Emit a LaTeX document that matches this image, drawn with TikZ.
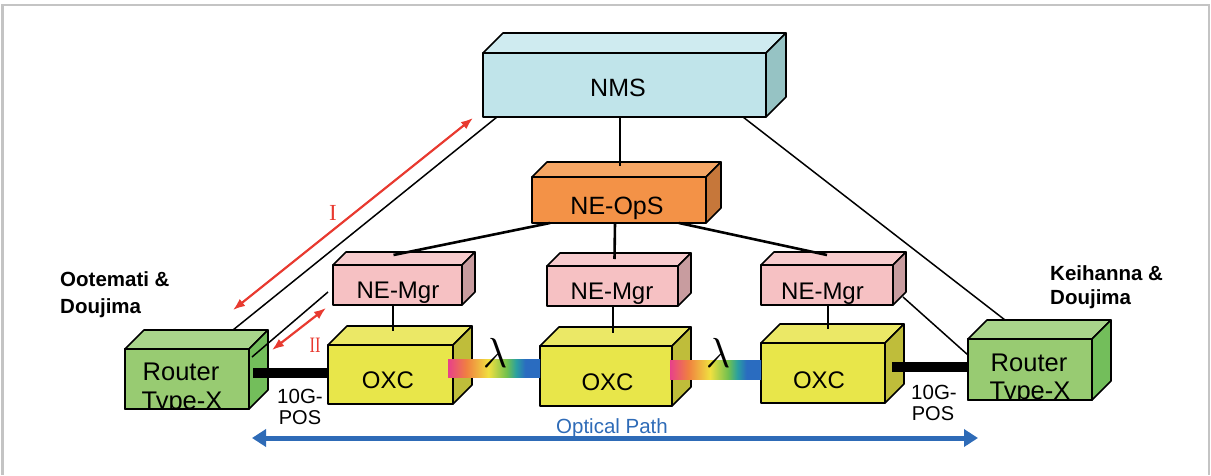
\documentclass[tikz,border=0pt]{standalone}
\usepackage{fontspec}
\setmainfont{Liberation Sans}
\newfontfamily\numfont{Liberation Serif}
\usetikzlibrary{arrows.meta,calc}

% face colours: F = front, T = top, S = side
\definecolor{nmsF}{HTML}{C0E4EA}
\definecolor{nmsT}{HTML}{CFEBF0}
\definecolor{nmsS}{HTML}{96C3C4}
\definecolor{opsF}{HTML}{F39247}
\definecolor{opsT}{HTML}{F5A665}
\definecolor{opsS}{HTML}{C6773A}
\definecolor{mgrF}{HTML}{F6C1C3}
\definecolor{mgrT}{HTML}{F7CBCD}
\definecolor{mgrS}{HTML}{C89C9F}
\definecolor{oxcF}{HTML}{E8E64A}
\definecolor{oxcT}{HTML}{EBE866}
\definecolor{oxcS}{HTML}{BFBD3A}
\definecolor{rtrF}{HTML}{98CB72}
\definecolor{rtrT}{HTML}{A9D58B}
\definecolor{rtrS}{HTML}{73BE5B}
\definecolor{pathblue}{HTML}{2E6BB7}
\definecolor{mgmtred}{HTML}{E83A30}
\definecolor{framegray}{HTML}{C4C4C4}
% wavelength band
\definecolor{rbA}{HTML}{E8408A}
\definecolor{rbB}{HTML}{F08040}
\definecolor{rbC}{HTML}{F0E040}
\definecolor{rbD}{HTML}{70C050}
\definecolor{rbE}{HTML}{2AA0A0}
\definecolor{rbF}{HTML}{2A6CC0}
\pgfdeclarehorizontalshading{rainbow}{100bp}{color(0bp)=(rbA); color(25bp)=(rbA);
  color(35bp)=(rbB); color(47bp)=(rbC); color(57bp)=(rbD); color(62bp)=(rbE);
  color(67bp)=(rbF); color(100bp)=(rbF)}

\tikzset{
  boxline/.style={draw=black, line width=1.6pt, line join=round},
  conn/.style={line width=1.5pt},
  trunk/.style={line width=2.6pt},
  fiber/.style={line width=10pt},
  mgmt/.style={draw=mgmtred, line width=2.2pt, {Latex[length=12pt,width=9pt]}-{Latex[length=12pt,width=9pt]}},
  optpath/.style={draw=pathblue, line width=5pt, {Triangle[length=14pt,width=17pt]}-{Triangle[length=14pt,width=17pt]}},
  boxtext/.style={anchor=base, inner sep=0pt},
  sitetext/.style={anchor=base west, inner sep=0pt, font=\bfseries\fontsize{20.5}{24}\selectfont},
}

% #1 name, #2 front centre, #3 width, #4 height, #5 depth, #6 colour prefix
\newcommand{\cuboid}[6]{%
  \node[boxline, fill=#6F, minimum width=#3pt, minimum height=#4pt,
        inner sep=0pt, outer sep=0pt] (#1) at #2 {};
  \filldraw[boxline, fill=#6T] (#1.north west) -- ++(#5,-#5)
     -- ($(#1.north east)+(#5,-#5)$) -- (#1.north east) -- cycle;
  \filldraw[boxline, fill=#6S] (#1.north east) -- ++(#5,-#5)
     -- ($(#1.south east)+(#5,-#5)$) -- (#1.south east) -- cycle;
}

\begin{document}
\begin{tikzpicture}[x=1pt,y=-1pt]
\useasboundingbox (0,0) rectangle (1211,475);

% frame
\draw[framegray, line width=2.2pt] (2.5,475) -- (2.5,4.8) -- (1209,4.8) -- (1209,475);

% equipment
\cuboid{nms}{(624.5,85)}{283}{64}{20}{nms}
\cuboid{ops}{(619,200)}{174}{46}{15}{ops}
\cuboid{mgrA}{(397.5,285)}{129}{40}{13}{mgr}
\cuboid{mgrB}{(612.5,286)}{131}{40}{13}{mgr}
\cuboid{mgrC}{(827,285)}{132}{40}{13}{mgr}
\cuboid{oxcA}{(390.5,374.5)}{125}{59}{19}{oxc}
\cuboid{oxcB}{(606,376)}{132}{60}{19}{oxc}
\cuboid{oxcC}{(823,373)}{124}{60}{19}{oxc}
\cuboid{rtrA}{(187,379)}{124}{60}{19}{rtr}
\cuboid{rtrB}{(1030,369.5)}{124}{61}{19}{rtr}

% box labels
\node[boxtext, font=\fontsize{25}{28}\selectfont] (nms-t) at (618,96) {NMS};
\node[boxtext, font=\fontsize{25}{28}\selectfont] (ops-t) at (617,214) {NE-OpS};
\node[boxtext, font=\fontsize{24}{28}\selectfont] (mgrA-t) at (398,298) {NE-Mgr};
\node[boxtext, font=\fontsize{24}{28}\selectfont] (mgrB-t) at (612,299) {NE-Mgr};
\node[boxtext, font=\fontsize{24}{28}\selectfont] (mgrC-t) at (822.5,299) {NE-Mgr};
\node[boxtext, font=\fontsize{24}{28}\selectfont] (oxcA-t) at (388,388) {OXC};
\node[boxtext, font=\fontsize{24}{28}\selectfont] (oxcB-t) at (607.5,390) {OXC};
\node[boxtext, font=\fontsize{24}{28}\selectfont] (oxcC-t) at (819,388) {OXC};

% router labels run past the front face and are cut by its edge
\begin{scope}
  \clip (rtrA.north west) rectangle (rtrA.south east);
  \node[boxtext, font=\fontsize{25.5}{28}\selectfont] (rtrA-t1) at (181,380) {Router};
  \node[boxtext, font=\fontsize{25.5}{28}\selectfont] (rtrA-t2) at (182,409) {Type-X};
\end{scope}
\draw[boxline] (rtrA.north west) rectangle (rtrA.south east);
\begin{scope}
  \clip (rtrB.north west) rectangle (rtrB.south east);
  \node[boxtext, font=\fontsize{25.5}{28}\selectfont] (rtrB-t1) at (1029,371.5) {Router};
  \node[boxtext, font=\fontsize{25.5}{28}\selectfont] (rtrB-t2) at (1030,399.5) {Type-X};
\end{scope}
\draw[boxline] (rtrB.north west) rectangle (rtrB.south east);

% management links
\draw[trunk] ($(nms.south)+(-4.5,0)$) -- ($(ops.north)+(1,-11)$);
\draw[trunk] ($(ops.south west)+(18,0)$) -- ($(mgrA.north)+(-4,-10)$);
\draw[trunk] ($(ops.south)+(-4,0)$) -- ($(mgrB.north)+(2,-7)$);
\draw[trunk] ($(ops.south east)+(-27,0)$) -- ($(mgrC.north)+(0,-10)$);
\draw[conn] ($(mgrA.south)+(-4.5,0)$) -- ($(oxcA.north)+(2.5,-14)$);
\draw[conn] ($(mgrB.south)+(0.5,0)$) -- ($(oxcB.north)+(7,-13)$);
\draw[conn] ($(mgrC.south)+(1,0)$) -- ($(oxcC.north)+(5,-14)$);
\draw[conn] ($(nms.south west)+(14,0)$) -- ($(rtrA.north west)+(108,-19)$);
\draw[conn] ($(nms.south east)+(-23,0)$) -- ($(rtrB.north west)+(37,-19)$);
\draw[conn] ($(mgrA.west)+(-5,7)$) -- ($(rtrA.north east)+(3,8)$);
\draw[conn] ($(mgrC.south east)+(10,-8)$) -- ($(rtrB.north west)+(0,16)$);

% 10G-POS links
\draw[fiber] ($(rtrA.east)+(4,-6)$) -- ($(oxcA.west)+(0,-1.5)$);
\draw[fiber] ($(oxcC.east)+(7,-6)$) -- ($(rtrB.west)+(0,-2.5)$);
\node[boxtext, font=\fontsize{20.5}{24}\selectfont] (posA1) at (300,403) {10G-};
\node[boxtext, font=\fontsize{20}{24}\selectfont] (posA2) at (300,424) {POS};
\node[boxtext, font=\fontsize{20.5}{24}\selectfont] (posB1) at (934,399) {10G-};
\node[boxtext, font=\fontsize{20}{24}\selectfont] (posB2) at (933,420) {POS};

% wavelength links
\shade[shading=rainbow] ($(oxcA.east)+(-5,-15)$) rectangle ($(oxcB.west)+(0,1.5)$);
\shade[shading=rainbow] ($(oxcB.east)+(-2,-16)$) rectangle ($(oxcC.west)+(0,6)$);
\node[boxtext] (lamA) at (495,367) {\scalebox{4.2}{$\lambda$}};
\node[boxtext] (lamB) at (718,367) {\scalebox{4.2}{$\lambda$}};

% management interfaces I and II
\coordinate (iLow) at (233,310);
\coordinate (iHigh) at (473,118);
\draw[mgmt] (iLow) -- (iHigh);
\node[text=mgmtred, font=\numfont\fontsize{23}{24}\selectfont, inner sep=0pt] (iLbl) at (333,213) {I};
\coordinate (iiLow) at (272,350);
\coordinate (iiHigh) at (326,308);
\draw[mgmt] (iiLow) -- (iiHigh);
\node[text=mgmtred, font=\numfont\fontsize{22}{24}\selectfont, inner sep=0pt] (iiLbl) at (315,345) {\scalebox{0.75}[1]{II}};

% optical path
\coordinate (opL) at (252,438);
\coordinate (opR) at (978,438);
\draw[optpath] (opL) -- (opR);
\node[boxtext, text=pathblue, font=\fontsize{20.5}{24}\selectfont] (opLbl) at (612,433) {Optical Path};

% sites
\node[sitetext] (siteA1) at (60,286.7) {Ootemati \&};
\node[sitetext] (siteA2) at (60,313) {Doujima};
\node[sitetext] (siteB1) at (1050,280) {Keihanna \&};
\node[sitetext] (siteB2) at (1050,304) {Doujima};
\end{tikzpicture}
\end{document}
